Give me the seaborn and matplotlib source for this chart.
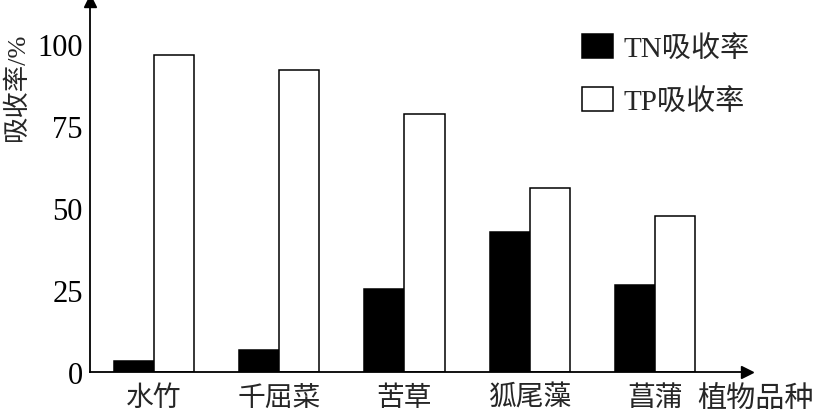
import matplotlib.pyplot as plt
import numpy as np
import pandas as pd
import seaborn as sns
from matplotlib.ticker import FixedLocator

sns.set_style("white")
plt.rcParams['font.family'] = ['Liberation Serif', 'Noto Sans CJK SC']

# data
plants = ["水竹", "千屈菜", "苦草", "狐尾藻", "菖蒲"]
tn = [3.4, 6.7, 25.4, 42.8, 26.6]
tp = [96.6, 92.0, 78.6, 56.0, 47.4]
series = ["TN吸收率", "TP吸收率"]

df = pd.DataFrame({
    "plant": plants * 2,
    "value": tn + tp,
    "kind": [series[0]] * len(plants) + [series[1]] * len(plants),
})

fig = plt.figure(figsize=(8.16, 4.14), dpi=100)
ax = fig.add_axes([0.110, 0.099, 0.805, 0.896])

sns.barplot(data=df, x="plant", y="value", hue="kind", order=plants,
            hue_order=series, palette=["black", "white"], edgecolor="black",
            linewidth=1.1, width=0.64, gap=0, ax=ax)

ax.set_xlim(-0.51, 4.73)
ax.set_ylim(0, 113)

# axes look: only left/bottom with arrows
for s in ["top", "right"]:
    ax.spines[s].set_visible(False)
for s in ["left", "bottom"]:
    ax.spines[s].set_color("black")
    ax.spines[s].set_linewidth(1.3)
ax.plot(0, 1, marker="^", color="black", markersize=9, transform=ax.transAxes, clip_on=False)
ax.plot(1, 0, marker=">", color="black", markersize=9, transform=ax.transAxes, clip_on=False)

ax.set_yticks([0, 25, 50, 75, 100])
ax.tick_params(axis="y", direction="in", length=5, width=1.1, labelsize=22, pad=5, colors="black")
ax.set_xticks(range(len(plants)))
ax.set_xticklabels(plants, fontsize=20, family=["Noto Sans CJK SC"])
ax.tick_params(axis="x", which="major", length=0, pad=7)
ax.xaxis.set_minor_locator(FixedLocator(np.arange(len(plants)) + 0.5))
ax.tick_params(axis="x", which="minor", direction="in", length=6, width=1.1, color="black")

ax.set_xlabel("")
ax.set_ylabel("吸收率/%", fontsize=19, family=["Liberation Serif", "Noto Sans CJK SC"])
ax.yaxis.set_label_coords(-0.092, 0.771)

ax.text(1.014, -0.033, "植物品种", transform=ax.transAxes, fontsize=21,
        family=["Noto Sans CJK SC"], ha="center", va="top")

handles, labels = ax.get_legend_handles_labels()
ax.legend(handles, labels, loc="upper left", bbox_to_anchor=(0.749, 0.91),
          frameon=False, handlelength=1.07, handleheight=0.86,
          labelspacing=0.85, handletextpad=0.35, borderpad=0, borderaxespad=0,
          prop={"family": ["Liberation Serif", "Noto Sans CJK SC"], "size": 21})

fig.savefig("out.png", dpi=100)
